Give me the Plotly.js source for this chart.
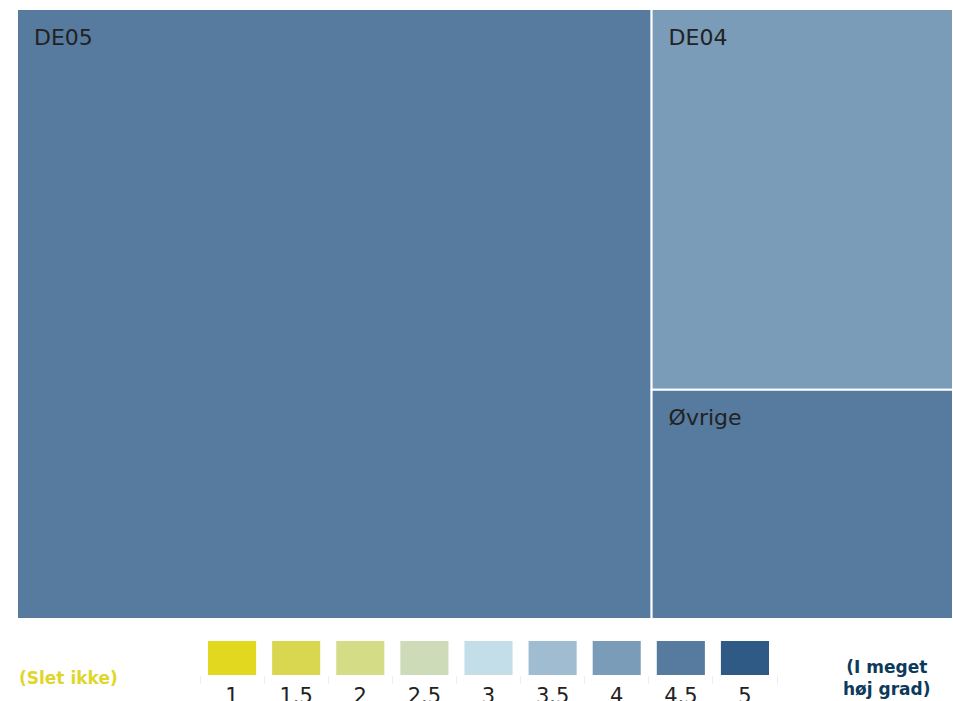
<!DOCTYPE html>
<html>
<head>
<meta charset="utf-8">
<script src="https://cdn.plot.ly/plotly-3.0.1.min.js"></script>
<style>html,body{margin:0;padding:0;background:#fff;}#chart{width:953px;height:701px;}</style>
</head>
<body>
<div id="chart"></div>
<script>
// Treemap data
const labels = ["DE05", "DE04", "Øvrige"];
const parents = ["", "", ""];
const values = [67.8, 20.1, 12.1];
const scores = [4.5, 4, 4.5];

// Colour legend
const legendLevels = ["1", "1.5", "2", "2.5", "3", "3.5", "4", "4.5", "5"];
const legendColors = ["#e2d81f", "#d9d750", "#d4dc86", "#cddbb8", "#c3dde9", "#a0bcd1", "#7a9cb8", "#567b9e", "#2f5a85"];
const legendHeights = [1, 1, 1, 1, 1, 1, 1, 1, 1];
const lowLabel = "(Slet ikke)";
const highLabel = "(I meget<br>høj grad)";

const colorFor = s => legendColors[legendLevels.indexOf(String(s))];

const W = 953, H = 701;
const treemap = {
  type: "treemap",
  labels: labels,
  parents: parents,
  values: values,
  branchvalues: "remainder",
  sort: true,
  textinfo: "label",
  texttemplate: "<span style='font-size:4px'> </span><br>  %{label}",
  textposition: "top left",
  textfont: {family: "DejaVu Sans", size: 22, color: "#222"},
  marker: {colors: scores.map(colorFor), line: {color: "#fff", width: 2}, pad: {t: 0, l: 0, r: 0, b: 0}},
  pathbar: {visible: false},
  tiling: {packing: "squarify", pad: 0},
  domain: {x: [17 / W, 1], y: [1 - 619 / H, 1 - 9 / H]},
  hoverinfo: "label+value"
};

const legendBars = {
  type: "bar",
  x: legendLevels,
  y: legendHeights,
  marker: {color: legendColors, line: {width: 0}},
  xaxis: "x",
  yaxis: "y",
  hoverinfo: "x",
  showlegend: false
};

const layout = {
  width: W, height: H,
  margin: {l: 0, r: 0, t: 0, b: 0},
  paper_bgcolor: "#fff",
  plot_bgcolor: "rgba(0,0,0,0)",
  bargap: 0.25,
  font: {family: "DejaVu Sans", color: "#222"},
  xaxis: {
    domain: [200 / W, 777 / W],
    anchor: "y",
    type: "category",
    tickson: "boundaries",
    ticks: "outside",
    ticklen: 8,
    tickcolor: "#eeeeee",
    ticklabelstandoff: 6,
    showgrid: false,
    zeroline: false,
    showline: false,
    tickfont: {family: "DejaVu Sans", size: 21, color: "#222"},
    fixedrange: true
  },
  yaxis: {
    domain: [(H - 675) / H, (H - 641) / H],
    anchor: "x",
    range: [0, 1],
    visible: false,
    fixedrange: true
  },
  annotations: [
    {xref: "paper", yref: "paper", x: 17 / W, y: (H - 678) / H, xanchor: "left", yanchor: "middle",
     text: "<b>" + lowLabel + "</b>", showarrow: false,
     font: {family: "DejaVu Sans", size: 17, color: "#dfd62c"}},
    {xref: "paper", yref: "paper", x: 887 / W, y: (H - 678) / H, xanchor: "center", yanchor: "middle",
     text: "<b>" + highLabel + "</b>", showarrow: false, align: "center",
     font: {family: "DejaVu Sans", size: 17, color: "#0d3a5c"}}
  ]
};

Plotly.newPlot("chart", [treemap, legendBars], layout, {displayModeBar: false, staticPlot: true});
</script>
</body>
</html>
